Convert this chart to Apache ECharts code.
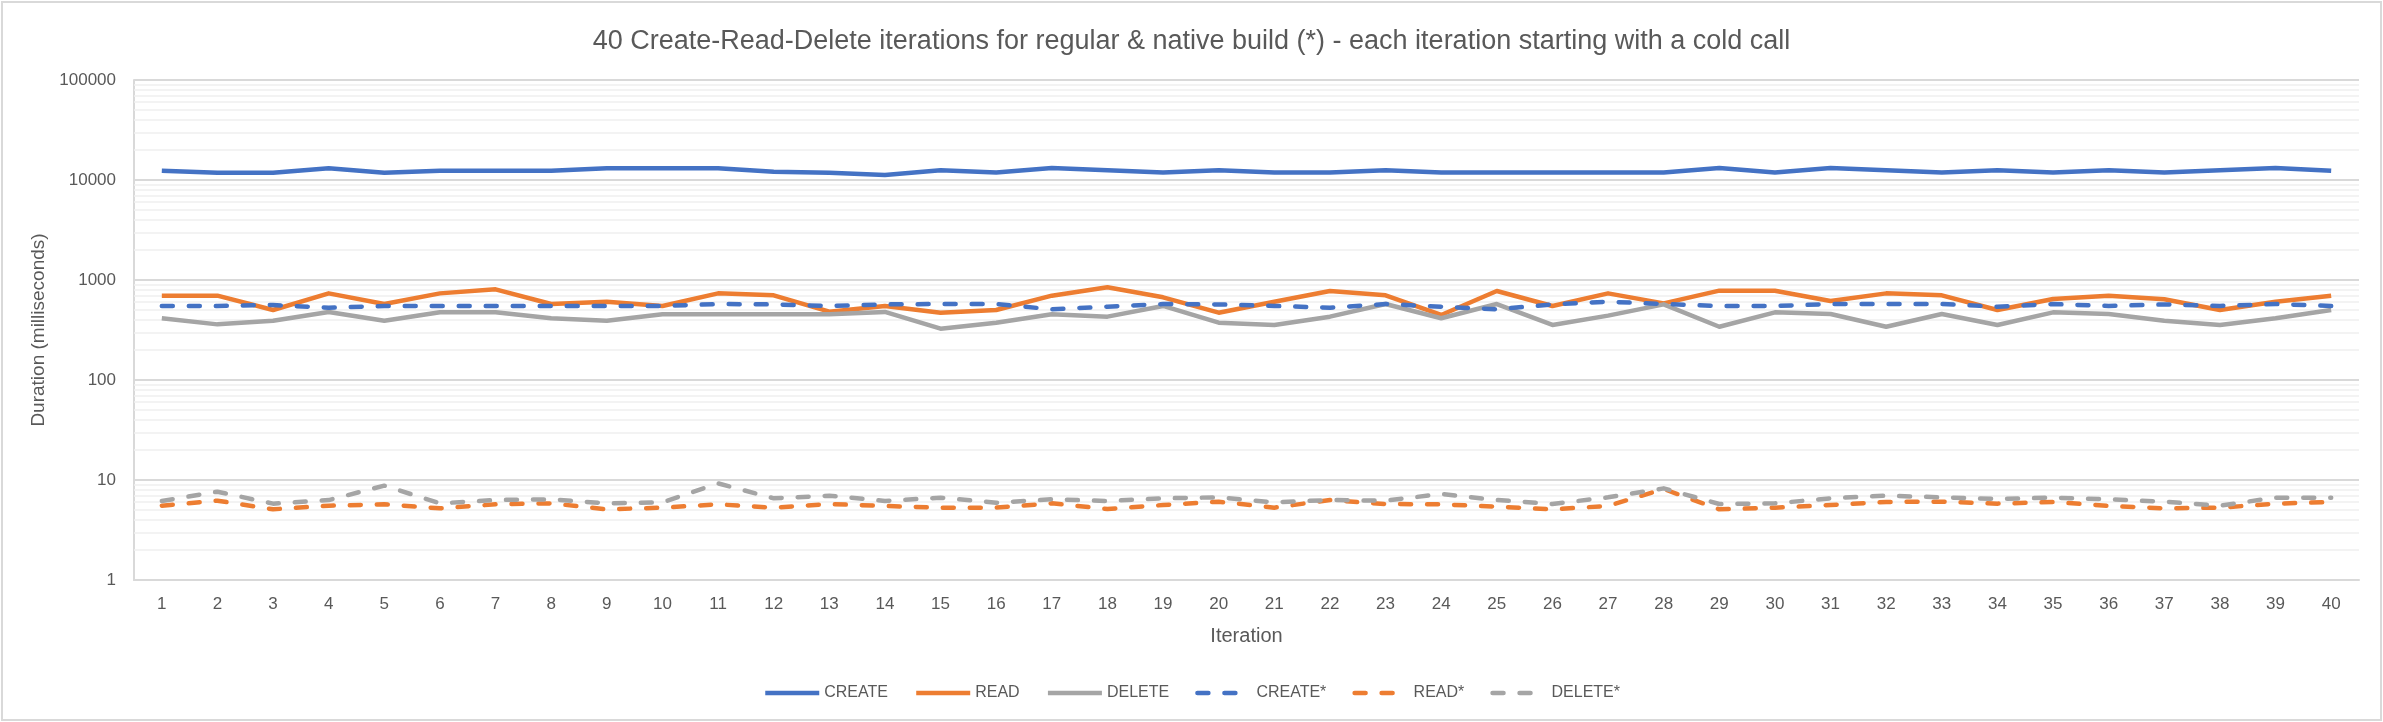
<!DOCTYPE html>
<html>
<head>
<meta charset="utf-8">
<script src="https://cdn.jsdelivr.net/npm/echarts@6/dist/echarts.min.js"></script>
<style>
html,body{margin:0;padding:0;background:#fff;}
#chart{width:2383px;height:722px;}
</style>
</head>
<body>
<div id="chart"></div>
<script>
const categories = ['1','2','3','4','5','6','7','8','9','10','11','12','13','14','15','16','17','18','19','20','21','22','23','24','25','26','27','28','29','30','31','32','33','34','35','36','37','38','39','40'];

const create = [12400,11800,11800,13100,11800,12400,12400,12400,13100,13100,13100,12100,11800,11200,12500,11900,13200,12500,11900,12500,11900,11900,12500,11900,11900,11900,11900,11900,13200,11900,13200,12500,11900,12500,11900,12500,11900,12500,13200,12400];
const read = [697,697,501,735,575,735,806,575,607,550,735,703,482,550,471,501,697,845,671,471,607,776,703,447,776,550,735,584,782,782,617,735,703,501,646,697,641,501,607,697];
const del = [414,360,392,479,392,475,475,414,392,454,454,454,454,479,326,374,454,430,550,374,355,430,575,414,575,355,440,571,341,475,457,341,457,355,475,457,392,355,414,501];
const createN = [550,550,562,529,550,550,550,550,550,550,575,570,550,570,575,575,509,541,575,570,550,529,575,541,509,570,607,575,550,550,575,575,575,541,575,550,570,550,575,550];
const readN = [5.54,6.21,5.09,5.54,5.71,5.21,5.71,5.84,5.09,5.29,5.71,5.29,5.75,5.5,5.29,5.29,5.84,5.13,5.62,6.07,5.29,6.31,5.75,5.71,5.41,5.09,5.5,8.13,5.09,5.29,5.62,6.03,6.07,5.8,6.03,5.5,5.21,5.29,5.8,6.03];
const delN = [6.17,7.64,5.8,6.3,8.78,5.84,6.31,6.41,5.84,5.98,9.26,6.56,6.97,6.17,6.66,5.93,6.41,6.17,6.56,6.71,5.98,6.31,6.21,7.24,6.31,5.75,6.71,8.25,5.75,5.84,6.56,6.97,6.71,6.46,6.66,6.41,6.07,5.54,6.66,6.66];

const yTicks = [1,10,100,1000,10000,100000];
const minorTicks = [2,3,4,5,6,7,8,9,20,30,40,50,60,70,80,90,200,300,400,500,600,700,800,900,2000,3000,4000,5000,6000,7000,8000,9000,20000,30000,40000,50000,60000,70000,80000,90000];

const seriesNames = ['CREATE','READ','DELETE','CREATE*','READ*','DELETE*'];
const seriesData = [create, read, del, createN, readN, delN];
const colors = ['#4472C4','#ED7D31','#A5A5A5','#4472C4','#ED7D31','#A5A5A5'];
const dashed = [false,false,false,true,true,true];

const FONT = "'Liberation Sans', Arial, sans-serif";
const TXT = '#595959';

const chart = echarts.init(document.getElementById('chart'), null, {renderer:'canvas'});

const series = seriesNames.map((n,i)=>({
  name:n, type:'line', data:seriesData[i], symbol:'none', z:3+i,
  lineStyle:{color:colors[i], width:4.5, type: dashed[i] ? [11,16] : 'solid', cap: dashed[i] ? 'round' : 'butt', join:'round'},
  itemStyle:{color:colors[i]}
}));
series.unshift({
  name:'minor', type:'line', data:[], z:1, silent:true,
  markLine:{silent:true, z:1, symbol:['none','none'], label:{show:false},
    lineStyle:{color:'#efefef', width:1.5, type:'solid'},
    emphasis:{disabled:true},
    data: minorTicks.map(v=>({yAxis:v}))}
});

chart.setOption({
  animation:false,
  textStyle:{fontFamily:FONT},
  title:{text:'40 Create-Read-Delete iterations for regular & native build (*) - each iteration starting with a cold call',
    left:'center', top:23, textStyle:{fontFamily:FONT, fontSize:27, fontWeight:'normal', color:TXT}},
  graphic:[{type:'rect', shape:{x:2,y:2,width:2379,height:718}, style:{fill:'none', stroke:'#d9d9d9', lineWidth:2}, silent:true}],
  legend:{data:seriesNames, top:680, left:'center', itemWidth:54, itemHeight:14, itemGap:26,
    itemStyle:{opacity:0},
    lineStyle:{width:4.5},
    textStyle:{fontFamily:FONT, fontSize:16, color:TXT}},
  grid:{left:134, right:24, top:80, bottom:142, containLabel:false},
  xAxis:{type:'category', data:categories, boundaryGap:true,
    name:'Iteration', nameLocation:'middle', nameGap:46,
    nameTextStyle:{fontFamily:FONT, fontSize:20, color:TXT},
    axisLine:{lineStyle:{color:'#d9d9d9', width:2}},
    axisTick:{show:false},
    axisLabel:{fontFamily:FONT, fontSize:17, color:TXT, margin:16, interval:0}},
  yAxis:{type:'log', logBase:10, min:1, max:100000,
    name:'Duration (milliseconds)', nameLocation:'middle', nameGap:70,
    nameTextStyle:{fontFamily:FONT, fontSize:19, color:TXT},
    axisLine:{show:true, lineStyle:{color:'#d9d9d9', width:2}},
    axisTick:{show:false},
    splitLine:{show:true, lineStyle:{color:'#d9d9d9', width:2}},
    axisLabel:{fontFamily:FONT, fontSize:17, color:TXT, margin:18,
      formatter:(v)=> yTicks.includes(v) ? String(v) : ''}},
  series:series
});
</script>
</body>
</html>
